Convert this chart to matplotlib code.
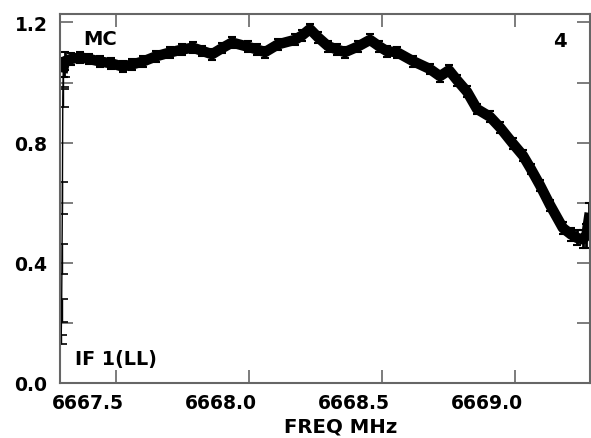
import matplotlib
matplotlib.use("Agg")
import matplotlib.pyplot as plt
from matplotlib.transforms import ScaledTranslation

plt.rcParams['font.family'] = ['DejaVu Sans']
plt.rcParams['font.weight'] = 'bold'

# steep rise at the low-frequency edge (thin line, wide caps)
edge_freq = [6667.2940, 6667.2955, 6667.2970, 6667.2985, 6667.3000, 6667.3015, 6667.3030]
edge_flux = [0.144, 0.240, 0.413, 0.616, 0.950, 1.020, 1.050]
edge_err = [0.015, 0.038, 0.050, 0.052, 0.030, 0.035, 0.030]

# main spectrum band
band_freq = [6667.303, 6667.308, 6667.330, 6667.365, 6667.400, 6667.440, 6667.480,
             6667.526, 6667.560, 6667.602, 6667.650, 6667.703, 6667.750, 6667.789,
             6667.825, 6667.861, 6667.900, 6667.936, 6667.996, 6668.030, 6668.060,
             6668.109, 6668.173, 6668.200, 6668.229, 6668.260, 6668.297, 6668.330,
             6668.361, 6668.410, 6668.455, 6668.490, 6668.519, 6668.556, 6668.617,
             6668.680, 6668.718, 6668.752, 6668.782, 6668.820, 6668.857, 6668.906,
             6668.944, 6668.992, 6669.030, 6669.060, 6669.094, 6669.132, 6669.180,
             6669.210, 6669.233, 6669.255, 6669.268, 6669.278]
band_flux = [1.050, 1.071, 1.078, 1.084, 1.078, 1.070, 1.064,
             1.053, 1.060, 1.070, 1.087, 1.100, 1.110, 1.116,
             1.105, 1.094, 1.115, 1.133, 1.119, 1.110, 1.101,
             1.127, 1.142, 1.157, 1.178, 1.150, 1.121, 1.110,
             1.101, 1.120, 1.142, 1.120, 1.104, 1.101, 1.071,
             1.045, 1.021, 1.041, 1.008, 0.969, 0.912, 0.886,
             0.850, 0.797, 0.757, 0.712, 0.658, 0.592, 0.516,
             0.495, 0.483, 0.478, 0.490, 0.549]
band_err = [0.03, 0.03, 0.02, 0.018, 0.018, 0.018, 0.018,
            0.018, 0.018, 0.018, 0.018, 0.018, 0.018, 0.018,
            0.018, 0.018, 0.018, 0.018, 0.018, 0.018, 0.018,
            0.018, 0.018, 0.018, 0.018, 0.018, 0.018, 0.018,
            0.018, 0.018, 0.018, 0.018, 0.018, 0.018, 0.018,
            0.018, 0.018, 0.018, 0.018, 0.018, 0.018, 0.018,
            0.018, 0.018, 0.018, 0.018, 0.018, 0.018, 0.02,
            0.022, 0.025, 0.03, 0.04, 0.05]

x_ticks = [6667.5, 6668.0, 6668.5, 6669.0]
y_ticks = [0.0, 0.2, 0.4, 0.6, 0.8, 1.0, 1.2]
y_labels = ['0.0', '', '0.4', '', '0.8', '', '1.2']

fig = plt.figure(figsize=(5.91, 4.39), dpi=100)
ax = fig.add_axes([60 / 591, 55 / 439, 530 / 591, 369 / 439])

axis_col = '#666666'
ax.errorbar(edge_freq, edge_flux, yerr=edge_err, color='black', lw=1,
            elinewidth=1, capsize=4.5, capthick=1.2)
ax.errorbar(band_freq, band_flux, yerr=band_err, color='black', lw=7.5,
            elinewidth=2, capsize=3, capthick=1.5)

ax.set_xlim(6667.2895, 6669.282)
ax.set_ylim(0, 1.228)
ax.set_xticks(x_ticks)
ax.set_xticklabels([f'{t:.1f}' for t in x_ticks])
ax.set_yticks(y_ticks)
ax.set_yticklabels(y_labels)

for s in ax.spines.values():
    s.set_color(axis_col)
    s.set_linewidth(1.5)
ax.tick_params(axis='both', direction='in', length=9.5, width=1.2, color=axis_col,
               labelsize=13.5, top=True, right=True)
ax.tick_params(axis='x', pad=7)
ax.tick_params(axis='y', pad=9)

# labels sit left of their ticks in the original
shift = ScaledTranslation(-28 / 100, 0, fig.dpi_scale_trans)
for lab in ax.get_xticklabels():
    lab.set_transform(lab.get_transform() + shift)

fig.text(341 / 591, 1 - 427 / 439, 'FREQ MHz', ha='center', va='center', fontsize=14.2)
fig.text(83 / 591, 1 - 45 / 439, 'MC', ha='left', va='baseline', fontsize=14)
fig.text(553 / 591, 1 - 47 / 439, '4', ha='left', va='baseline', fontsize=14)
fig.text(75 / 591, 1 - 365 / 439, 'IF 1(LL)', ha='left', va='baseline', fontsize=13.8)

fig.savefig('out.png', dpi=100)
